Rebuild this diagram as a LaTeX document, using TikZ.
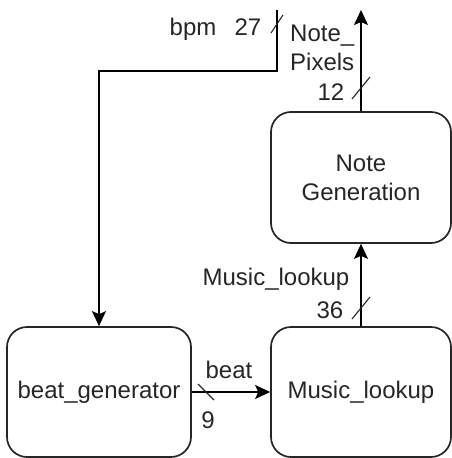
\documentclass[tikz,border=0pt]{standalone}
\usepackage{fontspec}
\setmainfont{Liberation Sans}
\usetikzlibrary{arrows.meta,calc}

\tikzset{
  block/.style={draw=black!85, line width=1.7pt, rounded corners=20pt,
    inner sep=0pt, align=center, text=black!85},
  wire/.style={draw=black, line width=1.6pt},
  flow/.style={wire, -{Stealth[length=15pt,width=14pt,inset=3pt]}},
  buswidth/.style={draw=black!85, line width=1.1pt},
  lbl/.style={inner sep=0pt, anchor=base, text=black!85},
}

\begin{document}
\begin{tikzpicture}[x=1pt, y=-1pt,
  every node/.append style={font=\fontsize{24}{29}\selectfont}]
  \useasboundingbox (0,0) rectangle (452,458);

  % blocks
  \node[block, minimum width=184pt, minimum height=130pt] (bg) at (99,392) {beat\_generator};
  \node[block, minimum width=180pt, minimum height=130pt] (ml) at (361,392) {Music\_lookup};
  \node[block, minimum width=180pt, minimum height=131pt] (ng) at (361,177.5) {Note\\Generation};

  % free ends of the external signals
  \coordinate (bpmin) at (277,10);
  \coordinate (bpmturn) at (277,71);
  \coordinate (bpmdrop) at (99,71);
  \coordinate (pixout) at (361,10);

  % connectors
  \draw[flow] (bpmin) -- (bpmturn) -- (bpmdrop) -- (bg.north);
  \draw[flow] (bg.east) -- (ml.west);
  \draw[flow] (ml.north) -- (ng.south);
  \draw[flow] (ng.north) -- (pixout);

  % bus-width marks
  \coordinate (w27) at (277,24);
  \coordinate (w12) at (361,88);
  \coordinate (w36) at (361,308);
  \coordinate (w9) at (206,392);
  \draw[buswidth] ($(w27)+(-6,9)$) -- ($(w27)+(6,-9)$);
  \draw[buswidth] ($(w12)+(-9,11)$) -- ($(w12)+(9,-11)$);
  \draw[buswidth] ($(w36)+(-9,11)$) -- ($(w36)+(9,-11)$);
  \draw[buswidth] ($(w9)+(-8,-8)$) -- ($(w9)+(8,8)$);

  % signal labels
  \node[lbl] (tbpm) at (193,35) {bpm};
  \node[lbl] (t27) at (248,35) {27};
  \node[lbl, anchor=base west] (tnote) at (290,41) {Note\_};
  \node[lbl, anchor=base west] (tpix) at (290,70) {Pixels};
  \node[lbl] (t12) at (331,100) {12};
  \node[lbl] (tml) at (276,285) {Music\_lookup};
  \node[lbl] (t36) at (330,318) {36};
  \node[lbl] (tbeat) at (229,378) {beat};
  \node[lbl] (t9) at (208,428) {9};
\end{tikzpicture}
\end{document}
